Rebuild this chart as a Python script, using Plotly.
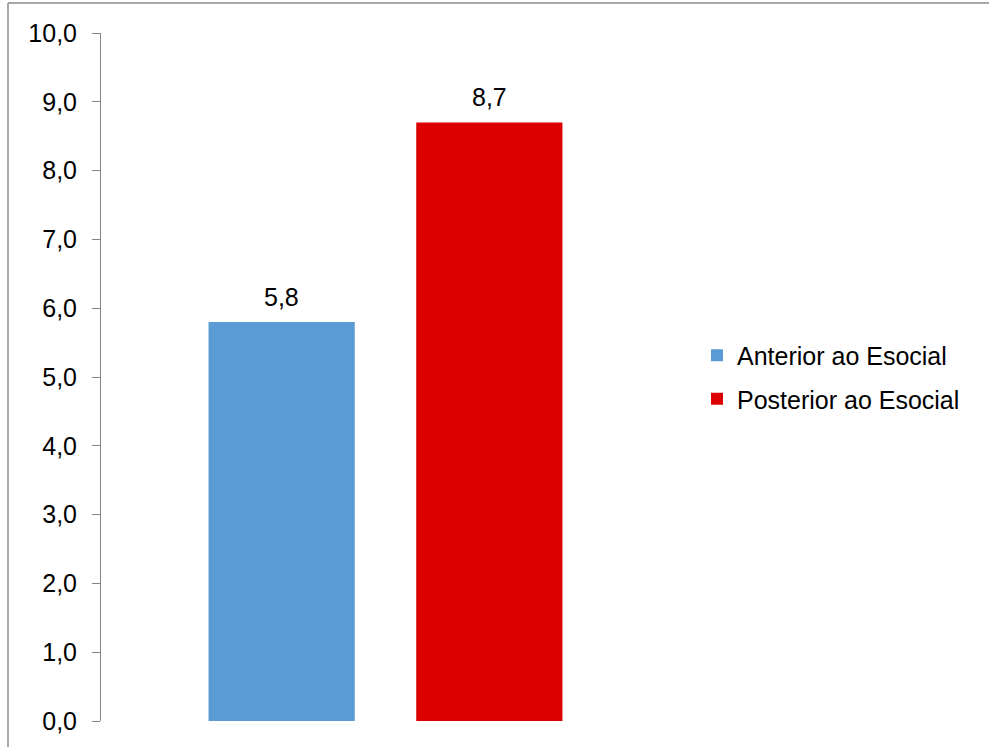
import plotly.graph_objects as go

categories = ["Esocial"]
series_names = ["Anterior ao Esocial", "Posterior ao Esocial"]
values = [5.8, 8.7]
colors = ["#5B9BD5", "#DC0000"]
y_ticks = [0, 1, 2, 3, 4, 5, 6, 7, 8, 9, 10]

W, H = 989, 747
L, R, T, B = 101, 319, 33, 26
pw = W - L - R
ph = H - T - B
BARGAP = 0.27
BARGROUPGAP = 0.296
FONT = "Liberation Sans, Arial"

fig = go.Figure()
for i, (name, v, c) in enumerate(zip(series_names, values, colors)):
    fig.add_trace(go.Bar(
        x=categories, y=[v], name=name, marker=dict(color=c, line=dict(width=0)),
        legendgroup=f"g{i}",
    ))

# data labels via annotations at each bar centre
group_w = 1 - BARGAP
slot = group_w / len(values)
annotations = []
for i, v in enumerate(values):
    xc = -group_w / 2 + slot * (i + 0.5)
    annotations.append(dict(
        x=xc, y=v, xref="x", yref="y", text=f"{v:.1f}".replace(".", ","),
        showarrow=False, yanchor="bottom", yshift=9,
        font=dict(size=25, color="#000000", family=FONT),
    ))

fig.update_layout(
    width=W, height=H,
    margin=dict(l=L, r=R, t=T, b=B, autoexpand=False),
    paper_bgcolor="white", plot_bgcolor="white",
    separators=",.",
    barmode="group", bargap=BARGAP, bargroupgap=BARGROUPGAP,
    font=dict(family=FONT, size=25, color="#000000"),
    showlegend=True,
    legend=dict(x=(697 - L) / pw, y=(721 - 377) / ph, xanchor="left", yanchor="middle",
                font=dict(size=25), tracegroupgap=8, itemwidth=30,
                bgcolor="rgba(0,0,0,0)"),
    xaxis=dict(showticklabels=False, showline=False, showgrid=False, ticks="",
               zeroline=False, range=[-0.5, 0.5]),
    yaxis=dict(range=[0, 10], tickvals=y_ticks, tickformat=".1f",
               showline=True, linecolor="#868686", linewidth=1,
               ticks="outside", ticklen=8, tickcolor="#868686",
               showgrid=False, zeroline=False, ticklabelstandoff=10,
               tickfont=dict(size=25)),
    annotations=annotations,
    shapes=[
        dict(type="line", xref="paper", yref="paper",
             x0=(8 - L) / pw, x1=(W - L) / pw + 0.01, y0=(721 - 3) / ph, y1=(721 - 3) / ph,
             line=dict(color="#8c8c8c", width=1.5)),
        dict(type="line", xref="paper", yref="paper",
             x0=(8 - L) / pw, x1=(8 - L) / pw, y0=(721 - 3) / ph, y1=-0.05,
             line=dict(color="#8c8c8c", width=1.5)),
    ],
)

fig.write_html("out.html")
